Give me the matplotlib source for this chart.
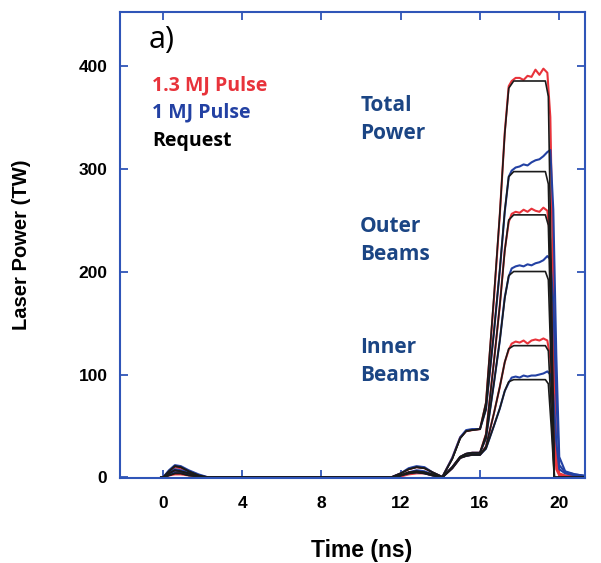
import matplotlib
matplotlib.use("Agg")
import matplotlib.pyplot as plt

# ==========================================
# data (time in ns, power in TW)
# ==========================================
T_REQ = [-0.1, 0.0, 0.3, 0.6, 0.9, 1.3, 1.8, 2.3,
         11.5, 12.0, 12.4, 12.8, 13.2, 13.6, 14.1,
         14.6, 15.0, 15.3, 15.6, 16.0,
         16.3, 16.7, 17.0, 17.25, 17.45, 17.7,
         19.3, 19.45, 19.6, 19.75, 21.5]

req_total_13 = [0, 0, 6, 11, 10, 6, 2, 0,
                0, 4, 8, 10, 9, 5, 0.5,
                18, 38, 45, 46, 47,
                73, 175, 256, 334, 378, 385,
                385, 370, 195, 0, 0]
req_total_10 = [0, 0, 6, 11, 10, 6, 2, 0,
                0, 4, 8, 10, 9, 5, 0.5,
                18, 38, 45, 46, 47,
                66, 141, 202, 259, 292, 297,
                297, 285, 150, 0, 0]
req_outer_13 = [0, 0, 4, 7, 6, 4, 1, 0,
                0, 2, 5, 6, 5, 3, 0.3,
                10, 20, 23, 24, 24,
                42, 112, 167, 220, 250, 255,
                255, 245, 128, 0, 0]
req_outer_10 = [0, 0, 4, 7, 6, 4, 1, 0,
                0, 2, 5, 6, 5, 3, 0.3,
                10, 20, 23, 24, 24,
                38, 91, 133, 174, 196, 200,
                200, 192, 100, 0, 0]
req_inner_13 = [0, 0, 2, 4, 4, 2, 1, 0,
                0, 2, 4, 5, 4, 2, 0.2,
                9, 19, 21, 22, 22,
                30, 62, 88, 112, 125, 128,
                128, 123, 64, 0, 0]
req_inner_10 = [0, 0, 2, 4, 4, 2, 1, 0,
                0, 2, 4, 5, 4, 2, 0.2,
                9, 19, 21, 22, 22,
                28, 50, 67, 84, 93, 95,
                95, 91, 48, 0, 0]

T_MEAS = [-0.1, 0.0, 0.3, 0.6, 0.9, 1.3, 1.8, 2.3,
          11.5, 12.0, 12.4, 12.8, 13.2, 13.6, 14.1,
          14.6, 15.0, 15.3, 15.6, 16.0,
          16.3, 16.7, 17.0, 17.25, 17.45, 17.6,
          17.8, 18.0, 18.2, 18.4, 18.6, 18.8, 19.0, 19.2, 19.4,
          19.55, 19.7, 19.85, 20.0, 20.3, 20.8, 21.5]

meas_total_13 = [0, 0, 5, 10, 9, 5, 2, 0,
                 0, 4, 8, 10, 9, 5, 0.5,
                 19, 39, 45, 46, 47,
                 72, 172, 255, 335, 380, 385,
                 388, 388, 386, 390, 389, 396, 391, 397, 393,
                 350, 190, 20, 4, 2, 1, 0]
meas_total_10 = [0, 0, 7, 12, 11, 7, 3, 0,
                 0, 4, 9, 11, 10, 5, 0.5,
                 19, 39, 46, 47, 47,
                 66, 140, 201, 258, 292, 298,
                 301, 302, 304, 303, 306, 308, 309, 312, 316,
                 318, 260, 120, 20, 6, 3, 1]
meas_outer_13 = [0, 0, 3, 6, 6, 4, 1, 0,
                 0, 2, 5, 6, 5, 3, 0.3,
                 10, 20, 23, 24, 24,
                 42, 112, 167, 221, 248, 256,
                 258, 257, 260, 258, 261, 259, 258, 262, 259,
                 230, 120, 15, 3, 1, 0, 0]
meas_outer_10 = [0, 0, 5, 8, 7, 5, 2, 0,
                 0, 2, 5, 7, 6, 3, 0.3,
                 10, 20, 23, 24, 24,
                 38, 91, 133, 175, 195, 203,
                 205, 206, 205, 207, 206, 208, 209, 211, 215,
                 212, 170, 80, 12, 5, 3, 1]
meas_inner_13 = [0, 0, 2, 3, 3, 2, 1, 0,
                 0, 1, 3, 4, 4, 2, 0.2,
                 9, 19, 21, 22, 22,
                 30, 62, 88, 112, 124, 130,
                 132, 131, 133, 130, 133, 134, 133, 135, 133,
                 115, 60, 8, 2, 0.5, 0, 0]
meas_inner_10 = [0, 0, 3, 5, 5, 3, 1, 0,
                 0, 2, 4, 5, 4, 2, 0.2,
                 9, 19, 21, 22, 22,
                 28, 50, 67, 84, 92, 97,
                 98, 97, 99, 98, 99, 99, 100, 101, 103,
                 100, 80, 35, 8, 4, 2, 1]

x_ticks = [0, 4, 8, 12, 16, 20]
y_ticks = [0, 100, 200, 300, 400]

RED = "#e8333b"
BLUE = "#2341a3"
FRAME = "#2f55b8"
TXT_BLUE = "#1b4584"

fig = plt.figure(figsize=(6.01, 5.63), dpi=100)
ax = fig.add_axes([120 / 601, 85 / 563, 465 / 601, 466 / 563])

for v in (meas_total_13, meas_outer_13, meas_inner_13):
    ax.plot(T_MEAS, v, color=RED, lw=1.5)
for v in (meas_total_10, meas_outer_10, meas_inner_10):
    ax.plot(T_MEAS, v, color=BLUE, lw=1.5)
for v in (req_total_13, req_total_10, req_outer_13, req_outer_10, req_inner_13, req_inner_10):
    ax.plot(T_REQ, v, color="#1a1a1a", lw=1.2)

ax.set_xlim(-2.17, 21.3)
ax.set_ylim(-0.5, 452)
ax.set_xticks(x_ticks)
ax.set_yticks(y_ticks)

for s in ax.spines.values():
    s.set_color(FRAME)
    s.set_linewidth(1.5)
ax.tick_params(direction="in", length=6, width=1.3, color=FRAME,
               top=True, right=True, labelsize=12.5)
ax.tick_params(axis="x", pad=13)
ax.tick_params(axis="y", pad=9)
for lab in ax.get_xticklabels() + ax.get_yticklabels():
    lab.set_fontfamily("Liberation Sans")
    lab.set_fontweight("bold")

ax.set_xlabel("Time (ns)", fontsize=16.5, fontweight="bold", family="Liberation Sans")
ax.xaxis.set_label_coords(0.52, -0.13)
ax.set_ylabel("Laser Power (TW)", fontsize=14.5, fontweight="bold", family="Liberation Sans", labelpad=34)

ax.text(-0.7, 425, "a)", fontsize=22, va="center", ha="left", family="Open Sans")
ax.text(-0.55, 381, "1.3 MJ Pulse", color=RED, fontsize=14, fontweight="bold",
        va="center", family="Open Sans")
ax.text(-0.55, 354, "1 MJ Pulse", color=BLUE, fontsize=14, fontweight="bold",
        va="center", family="Open Sans")
ax.text(-0.55, 327, "Request", color="black", fontsize=14, fontweight="bold",
        va="center", family="Open Sans")

for y, s in [(348, "Total\nPower"), (230, "Outer\nBeams"), (113, "Inner\nBeams")]:
    ax.text(9.95, y, s, color=TXT_BLUE, fontsize=15, fontweight="bold",
            va="center", ha="left", linespacing=1.45, family="Open Sans")

plt.savefig("out.png", dpi=100)
